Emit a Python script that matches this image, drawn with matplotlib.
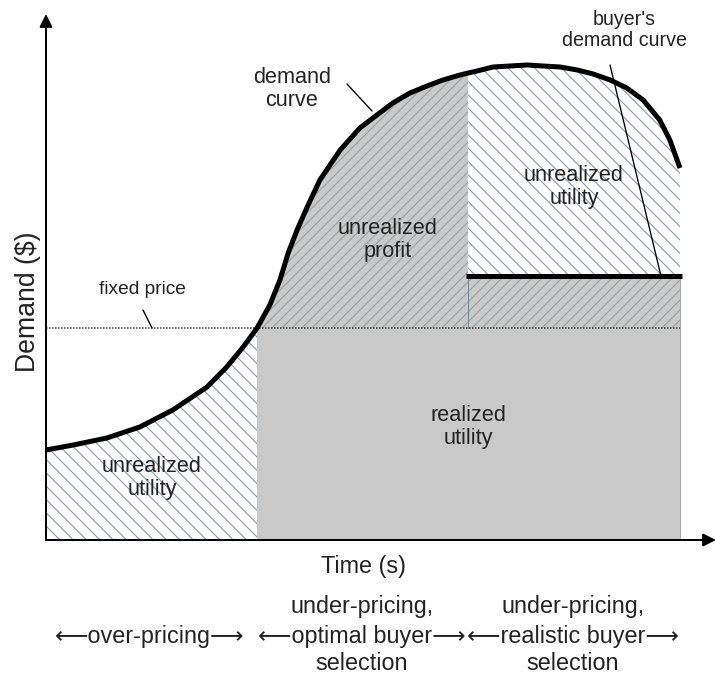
import numpy as np
import matplotlib.pyplot as plt

plt.rcParams['font.family'] = ['Liberation Sans', 'DejaVu Sans']
plt.rcParams['hatch.linewidth'] = 0.7

# demand curve (time in s, demand in $)
time = [0.00, 0.43, 0.96, 1.48, 2.00, 2.54, 2.85, 3.11, 3.33, 3.53, 3.69, 3.82,
        3.96, 4.12, 4.32, 4.64, 4.95, 5.22, 5.47, 5.74, 6.01, 6.26, 6.53, 6.66,
        6.80, 7.05, 7.32, 7.59, 7.84, 8.11, 8.38, 8.63, 8.90, 9.16, 9.42, 9.68,
        9.84, 10.0]
demand = [1.80, 1.90, 2.04, 2.26, 2.60, 3.06, 3.46, 3.86, 4.24, 4.70, 5.20, 5.74,
          6.20, 6.66, 7.20, 7.80, 8.24, 8.50, 8.74, 8.94, 9.08, 9.20, 9.30, 9.34,
          9.38, 9.46, 9.48, 9.50, 9.48, 9.46, 9.40, 9.32, 9.20, 9.04, 8.80, 8.40,
          8.00, 7.44]

fixed_price = 4.24
buyer_demand = 5.28
phase_edges = [0.0, 3.33, 6.66, 10.0]

region_labels = ['unrealized\nutility', 'unrealized\nprofit', 'realized\nutility',
                 'unrealized\nutility']
phase_top = ['', 'under-pricing,', 'under-pricing,']
phase_mid = ['\u27f5over-pricing\u27f6', '\u27f5optimal buyer\u27f6',
             '\u27f5realistic buyer\u27f6']
phase_bot = ['', 'selection', 'selection']

# pixel -> data helper for layout
X0, Y0, KX, KY = 46, 540, 63.4, 50.0
def P(x, y):
    return ((x - X0) / KX, (Y0 - y) / KY)

t = np.array(time)
d = np.array(demand)

fig = plt.figure(figsize=(716 / 120, 675 / 120), dpi=120)
ax = fig.add_axes([0, 0, 1, 1])
ax.set_xlim(P(0, 0)[0], P(716, 0)[0])
ax.set_ylim(P(0, 675)[1], P(0, 0)[1])
ax.axis('off')

hatch_col = '#8b9ca6'
gray = '#c9c9c9'
t0, t1, t2, t3 = phase_edges

# over-pricing: unrealized utility
m = t <= t1 + 1e-9
ax.fill_between(t[m], 0, d[m], facecolor='white', edgecolor=hatch_col,
                hatch='\\\\\\', linewidth=0, zorder=1)
# realized utility
ax.fill_between([t1, t3], 0, fixed_price, facecolor=gray, edgecolor=gray,
                linewidth=0, zorder=1)
# unrealized profit
m = (t >= t1 - 1e-9) & (t <= t2 + 1e-9)
ax.fill_between(t[m], fixed_price, d[m], facecolor=gray, edgecolor='#9aa0a3',
                hatch='////', linewidth=0, zorder=1)
# realistic buyer: box under buyer's demand
ax.fill_between([t2, t3], fixed_price, buyer_demand, facecolor=gray,
                edgecolor='#9aa0a3', hatch='////', linewidth=0, zorder=1)
# realistic buyer: unrealized utility
m = t >= t2 - 1e-9
ax.fill_between(t[m], buyer_demand, d[m], facecolor='white', edgecolor=hatch_col,
                hatch='\\\\\\', linewidth=0, zorder=1)

ax.plot([t2, t2], [fixed_price, buyer_demand], color='#7d8a90', lw=0.6, zorder=2)
ax.plot([t3, t3], [0, buyer_demand], color='#a8a8a8', lw=0.6, zorder=2)

# fixed price
ax.plot([t0, t3], [fixed_price, fixed_price], color='#333333', lw=0.9,
        ls=(0, (1, 1)), zorder=3)
# demand curve
ax.plot(t, d, color='black', lw=3.0, solid_capstyle='butt',
        solid_joinstyle='round', zorder=4)
# buyer's demand curve
ax.plot([t2 - 0.03, t3 + 0.03], [buyer_demand, buyer_demand], color='black',
        lw=3.0, solid_capstyle='butt', zorder=4)

# axes arrows
ax.annotate('', xy=P(716, 540), xytext=P(46, 540),
            arrowprops=dict(arrowstyle='-|>', color='black', lw=1.2,
                            mutation_scale=16, shrinkA=0, shrinkB=0), zorder=5)
ax.annotate('', xy=P(46, 14), xytext=P(46, 540),
            arrowprops=dict(arrowstyle='-|>', color='black', lw=1.2,
                            mutation_scale=16, shrinkA=0, shrinkB=0), zorder=5)

# callouts
lead = dict(arrowstyle='-', color='black', lw=0.8, shrinkA=0, shrinkB=0)
ax.annotate('', xy=P(372, 111), xytext=P(347, 84), arrowprops=lead, zorder=5)
ax.annotate('', xy=P(661, 276), xytext=P(610, 65), arrowprops=lead, zorder=5)
ax.annotate('', xy=P(152, 328), xytext=P(143, 310), arrowprops=lead, zorder=5)
ax.text(*P(292, 89), 'demand\ncurve', ha='center', va='center', fontsize=13,
        color='#222222', linespacing=1.1)
ax.text(*P(624, 30), "buyer's\ndemand curve", ha='center', va='center',
        fontsize=11.8, color='#222222', linespacing=1.1)
ax.text(*P(142, 289), 'fixed price', ha='center', va='center', fontsize=11.5,
        color='#222222')

label_pos = [(152, 478), (388, 240), (468, 427), (574, 187)]
for lab, (x, y) in zip(region_labels, label_pos):
    ax.text(*P(x, y), lab, ha='center', va='center', fontsize=13, color='#222222',
            linespacing=1.1, zorder=6)

ax.text(*P(28, 302), 'Demand ($)', ha='center', va='center', fontsize=16,
        rotation=90, color='#222222')
ax.text(*P(364, 566), 'Time (s)', ha='center', va='center', fontsize=14,
        color='#222222')

phase_x = [150, 362, 573]
for x, top, mid, bot in zip(phase_x, phase_top, phase_mid, phase_bot):
    ax.text(*P(x, 607), top, ha='center', va='center', fontsize=14, color='#222222')
    ax.text(*P(x, 636), mid, ha='center', va='center', fontsize=14, color='#222222')
    ax.text(*P(x, 663), bot, ha='center', va='center', fontsize=14, color='#222222')

fig.savefig('out.png', dpi=120, facecolor='white')
